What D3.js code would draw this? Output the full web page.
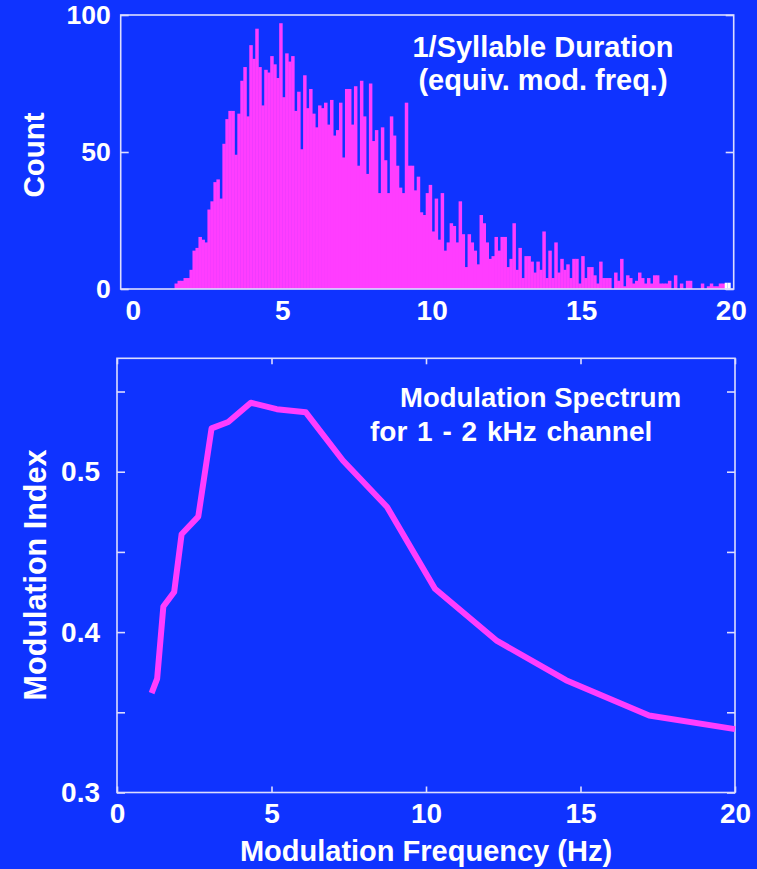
<!DOCTYPE html>
<html>
<head>
<meta charset="utf-8">
<script src="https://cdn.jsdelivr.net/npm/d3@7"></script>
<style>
  html, body { margin: 0; padding: 0; background: #0f33ff; }
  svg { display: block; }
  text { font-family: "Liberation Sans", Arial, Helvetica, sans-serif; font-weight: bold; fill: #ffffff; }
</style>
</head>
<body>
<svg id="chart" width="757" height="869"></svg>
<script>
// ---- Histogram: 1/syllable duration, 0.1 Hz bins starting at 1.4 Hz ----
const binStart = 1.4;
const binWidth = 0.1;
const syllableCounts = [
  2, 3, 3, 4, 4, 7, 14, 15, 19, 18, 17, 29, 32, 39, 40, 33, 53, 62, 65, 65,
  49, 64, 76, 81, 63, 89, 84, 95, 81, 67, 80, 79, 85, 82, 77, 97,
  70, 86, 83, 85, 65, 72, 51, 78, 66, 73, 64, 59, 67, 66, 68, 60, 69, 56, 58, 68,
  48, 73, 73, 60, 74, 45, 76, 63, 42, 75, 54, 58, 35, 59, 47, 35, 63,
  56, 45, 37, 35, 68, 45, 45, 36, 41, 28, 27, 35, 38, 21, 33, 18, 35, 14, 17, 24,
  23, 17, 32, 20, 8, 20, 17, 14, 9, 27, 24, 17, 11, 12, 19, 14, 19, 19,
  8, 11, 24, 7, 15, 4, 12, 12, 10, 6, 10, 7, 21, 4, 14, 4, 17, 6, 11, 7,
  9, 4, 11, 11, 2, 12, 4, 8, 8, 5, 2, 10, 4, 4, 4, 0, 6, 3, 11, 1,
  5, 4, 2, 3, 6, 4, 2, 4, 2, 5, 5, 2, 2, 2, 3, 0, 5, 0, 2, 0,
  3, 3, 0, 0, 0, 2, 0, 1, 2, 1, 1, 2, 2
];
// last two bins (19.8 - 20.0 Hz), drawn as outlines
const edgeCounts = [2, 2];
const histXTicks = [0, 5, 10, 15, 20];
const histYTicks = [0, 50, 100];
const histTitle = ["1/Syllable Duration", "(equiv. mod. freq.)"];

// ---- Modulation spectrum, 1-2 kHz channel ----
const modFreq  = [1.12, 1.30, 1.50, 1.85, 2.09, 2.63, 3.06, 3.60, 4.33, 5.17, 6.11, 7.31, 8.74, 10.29, 12.30, 14.53, 17.22, 20.0];
const modIndex = [0.362, 0.371, 0.416, 0.425, 0.461, 0.472, 0.527, 0.531, 0.543, 0.539, 0.537, 0.507, 0.478, 0.427, 0.3945, 0.370, 0.348, 0.3395];
const specXTicks = [0, 5, 10, 15, 20];
const specYTicks = [0.3, 0.35, 0.4, 0.45, 0.5, 0.55];
const specYLabels = [0.3, 0.4, 0.5];
const specTitle = ["Modulation Spectrum", "for 1 - 2 kHz channel"];

const PINK = "#ff3dff";
const FRAME = "#dcdcff";
const FONT = '"Liberation Sans", Arial, sans-serif';

const svg = d3.select("#chart");
svg.append("rect").attr("width", 757).attr("height", 869).attr("fill", "#0f33ff");

// ================= top panel =================
const histBox = { left: 120.7, right: 733.7, top: 15, bottom: 289 };
const hx = d3.scaleLinear().domain([-0.4, 20.1]).range([histBox.left, histBox.right]);
const hy = d3.scaleLinear().domain([0, 100]).range([histBox.bottom, histBox.top]);

const bins = syllableCounts.map((c, i) => ({ x0: binStart + i * binWidth, x1: binStart + (i + 1) * binWidth, c }));
const nBins = syllableCounts.length;
const edgeBins = edgeCounts.map((c, i) => ({ x0: binStart + (nBins + i) * binWidth, x1: binStart + (nBins + i + 1) * binWidth, c }));

svg.append("g").selectAll("rect").data(bins).join("rect")
  .attr("x", d => hx(d.x0))
  .attr("width", d => hx(d.x1) - hx(d.x0) + 0.5)
  .attr("y", d => hy(d.c))
  .attr("height", d => hy(0) - hy(d.c))
  .attr("fill", PINK);

svg.append("g").selectAll("rect").data(edgeBins).join("rect")
  .attr("x", d => hx(d.x0) + 0.8)
  .attr("width", d => hx(d.x1) - hx(d.x0) - 1.6)
  .attr("y", d => hy(d.c))
  .attr("height", d => hy(0) - hy(d.c))
  .attr("fill", "none")
  .attr("stroke", "#ffffff")
  .attr("stroke-width", 1.6);

// frame
svg.append("rect")
  .attr("x", histBox.left).attr("y", histBox.top)
  .attr("width", histBox.right - histBox.left).attr("height", histBox.bottom - histBox.top)
  .attr("fill", "none").attr("stroke", FRAME).attr("stroke-width", 1.6);

// y axis (left, inward ticks) and mirrored ticks on the right
const hyAxis = svg.append("g").attr("transform", `translate(${histBox.left},0)`)
  .call(d3.axisLeft(hy).tickValues(histYTicks).tickSize(-8).tickPadding(10).tickFormat(d3.format("d")));
hyAxis.select(".domain").remove();
hyAxis.selectAll("line").attr("stroke", FRAME).attr("stroke-width", 1.6);
hyAxis.selectAll("text").attr("font-size", 26.5).attr("fill", "#fff")
  .attr("font-family", FONT)
  .attr("font-weight", d => d === 0 ? "normal" : "bold");

const hyAxisR = svg.append("g").attr("transform", `translate(${histBox.right},0)`)
  .call(d3.axisRight(hy).tickValues(histYTicks).tickSize(-8).tickFormat(""));
hyAxisR.select(".domain").remove();
hyAxisR.selectAll("line").attr("stroke", FRAME).attr("stroke-width", 1.6);

// x axis labels only
const hxAxis = svg.append("g").attr("transform", `translate(0,${histBox.bottom})`)
  .call(d3.axisBottom(hx).tickValues(histXTicks).tickSize(0).tickPadding(11).tickFormat(d3.format("d")));
hxAxis.select(".domain").remove();
hxAxis.selectAll("text").attr("font-size", 28).attr("fill", "#fff")
  .attr("font-family", FONT).attr("font-weight", "bold");

svg.append("text")
  .attr("transform", "translate(44,155) rotate(-90)")
  .attr("text-anchor", "middle").attr("font-size", 29.5).text("Count");

svg.append("text").attr("x", 543).attr("y", 57).attr("text-anchor", "middle")
  .attr("font-size", 29).text(histTitle[0]);
svg.append("text").attr("x", 543).attr("y", 90).attr("text-anchor", "middle")
  .attr("font-size", 29).text(histTitle[1]);

// ================= bottom panel =================
const specBox = { left: 117, right: 735, top: 358.3, bottom: 792.5 };
const sx = d3.scaleLinear().domain([0, 20]).range([specBox.left, specBox.right]);
const sy = d3.scaleLinear().domain([0.3, 0.5707]).range([specBox.bottom, specBox.top]);

svg.append("rect")
  .attr("x", specBox.left).attr("y", specBox.top)
  .attr("width", specBox.right - specBox.left).attr("height", specBox.bottom - specBox.top)
  .attr("fill", "none").attr("stroke", FRAME).attr("stroke-width", 1.6);

const fmtY = d => specYLabels.some(v => Math.abs(v - d) < 1e-9) ? d3.format(".1f")(d) : "";

const syAxis = svg.append("g").attr("transform", `translate(${specBox.left},0)`)
  .call(d3.axisLeft(sy).tickValues(specYTicks).tickSize(-8).tickPadding(17).tickFormat(fmtY));
syAxis.select(".domain").remove();
syAxis.selectAll("line").attr("stroke", FRAME).attr("stroke-width", 1.6);
syAxis.selectAll("text").attr("font-size", 28).attr("fill", "#fff")
  .attr("font-family", FONT).attr("font-weight", "bold");

const syAxisR = svg.append("g").attr("transform", `translate(${specBox.right},0)`)
  .call(d3.axisRight(sy).tickValues(specYTicks).tickSize(-8).tickFormat(""));
syAxisR.select(".domain").remove();
syAxisR.selectAll("line").attr("stroke", FRAME).attr("stroke-width", 1.6);

const sxAxis = svg.append("g").attr("transform", `translate(0,${specBox.bottom})`)
  .call(d3.axisBottom(sx).tickValues(specXTicks).tickSize(-6).tickPadding(11).tickFormat(d3.format("d")));
sxAxis.select(".domain").remove();
sxAxis.selectAll("line").attr("stroke", FRAME).attr("stroke-width", 1.6);
sxAxis.selectAll("text").attr("font-size", 28).attr("fill", "#fff")
  .attr("font-family", FONT).attr("font-weight", "bold");

const sxAxisT = svg.append("g").attr("transform", `translate(0,${specBox.top})`)
  .call(d3.axisTop(sx).tickValues(specXTicks).tickSize(-6).tickFormat(""));
sxAxisT.select(".domain").remove();
sxAxisT.selectAll("line").attr("stroke", FRAME).attr("stroke-width", 1.6);

// spectrum curve
const line = d3.line().x((d, i) => sx(modFreq[i])).y(d => sy(d));
svg.append("path").datum(modIndex)
  .attr("d", line)
  .attr("fill", "none")
  .attr("stroke", PINK)
  .attr("stroke-width", 6)
  .attr("stroke-linejoin", "round");

svg.append("text").attr("x", 400).attr("y", 407).attr("font-size", 27.5).text(specTitle[0]);
svg.append("text").attr("x", 370).attr("y", 441).attr("font-size", 28)
  .attr("word-spacing", 2).text(specTitle[1]);

svg.append("text")
  .attr("transform", "translate(46,575) rotate(-90)")
  .attr("text-anchor", "middle").attr("font-size", 30.5).text("Modulation Index");

svg.append("text").attr("x", 426).attr("y", 861).attr("text-anchor", "middle")
  .attr("font-size", 29).text("Modulation Frequency (Hz)");
</script>
</body>
</html>
